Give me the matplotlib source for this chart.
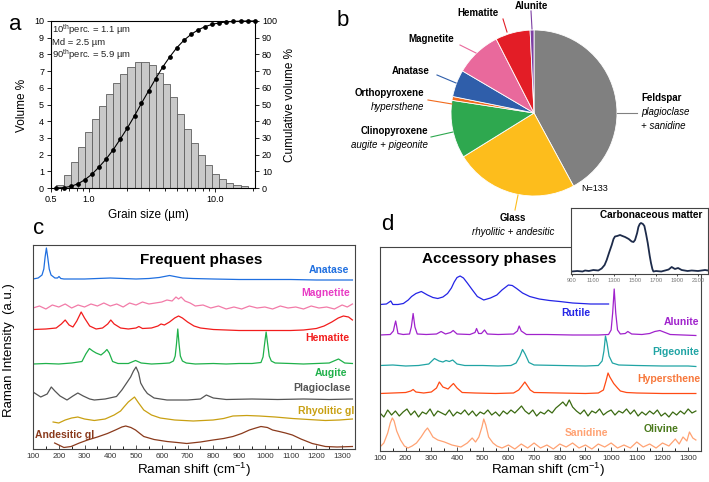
import numpy as np
import matplotlib
matplotlib.use('Agg')
import matplotlib.pyplot as plt
from matplotlib.lines import Line2D

plt.rcParams['font.family'] = ['Liberation Sans', 'DejaVu Sans']
plt.rcParams['mathtext.fontset'] = 'custom'
plt.rcParams['mathtext.rm'] = 'Liberation Sans'
plt.rcParams['mathtext.it'] = 'Liberation Sans:italic'
plt.rcParams['mathtext.bf'] = 'Liberation Sans:bold'

# ---------------- data: panel a (grain size) ----------------
grain_edges_um = [0.55, 0.63, 0.72, 0.82, 0.93, 1.06, 1.20, 1.37, 1.56, 1.77,
                  2.02, 2.30, 2.61, 2.98, 3.39, 3.85, 4.39, 4.99, 5.68, 6.47,
                  7.36, 8.37, 9.53, 10.8, 12.3, 14.0, 16.0, 18.2, 20.7]
volume_pct = [0.2, 0.8, 1.56, 2.46, 3.36, 4.16, 4.9, 5.6, 6.26, 6.8,
              7.26, 7.52, 7.56, 7.36, 6.9, 6.2, 5.46, 4.46, 3.52, 2.7,
              1.96, 1.36, 0.86, 0.56, 0.32, 0.16, 0.1, 0.0]
stats_text = ['10$^{\\rm th}$perc. = 1.1 µm', 'Md = 2.5 µm', '90$^{\\rm th}$perc. = 5.9 µm']

# ---------------- data: panel b (pie) ----------------
pie_names = ['Feldspar', 'Glass', 'Clinopyroxene', 'Orthopyroxene', 'Anatase', 'Magnetite', 'Hematite', 'Alunite']
pie_counts = [56, 32, 15, 1, 7, 12, 9, 1]
pie_colors = ['#808080', '#fdbd1c', '#2ea84f', '#f26b1d', '#2f5eaa', '#e9699c', '#e31d26', '#7d3fa3']

# ---------------- data: panel c (frequent phases) ----------------
anatase_x = [100, 120, 135, 142, 147, 152, 157, 163, 170, 185, 195, 201, 208, 220, 260, 300, 350, 400, 450, 500,
             550, 590, 610, 630, 650, 680, 720, 800, 900, 1000, 1100, 1200, 1300, 1340]
anatase_y = [170, 171, 174, 180, 192, 201, 192, 180, 174, 171, 171, 172.5, 170.5, 170, 170, 170, 170.5, 171, 170.5, 170,
             170.5, 171.5, 172.5, 173.5, 172.5, 171, 170.5, 170, 169.5, 169.5, 169.5, 169, 169, 169]
magnetite_x = [100, 125, 150, 175, 200, 225, 250, 275, 300, 325, 350, 375, 400, 425, 450, 475, 500, 525, 550, 575,
               600, 620, 640, 655, 665, 675, 690, 710, 730, 760, 790, 820, 850, 880, 910, 940, 970, 1000, 1030, 1060,
               1090, 1120, 1150, 1180, 1210, 1240, 1270, 1300, 1320, 1340]
magnetite_y = [141, 143, 140, 144, 142, 145, 141, 144, 142, 145, 143, 146, 143, 145, 142, 146, 144, 147, 145, 146,
               147, 149, 148, 152, 150, 152, 148, 146, 143, 144, 141, 143, 140, 142, 140, 143, 141, 142, 140, 143,
               141, 142, 140, 143, 141, 142, 140, 144, 142, 145]
hematite_x = [100, 150, 190, 210, 225, 240, 255, 270, 287, 300, 320, 345, 370, 390, 402, 415, 440, 470, 500, 511,
              525, 560, 585, 597, 610, 630, 650, 665, 680, 700, 725, 750, 800, 900, 1000, 1100, 1150, 1200, 1230, 1260,
              1285, 1305, 1325, 1340]
hematite_y = [119.5, 120, 121, 125, 129, 124, 122, 128, 137, 131, 123, 120, 121, 125, 129, 125, 121, 120, 121, 122.5,
              120.5, 121, 123, 125, 124, 127, 131, 133, 131, 127, 123, 121, 119.5, 118.5, 118.5, 118.5, 119, 120.5, 123, 127,
              131, 133, 132, 129]
augite_x = [100, 150, 200, 250, 290, 305, 319, 332, 345, 364, 378, 387, 396, 409, 430, 470, 498, 520, 560, 600,
            630, 645, 652, 657, 662, 667, 672, 680, 695, 730, 800, 850, 900, 950, 985, 993, 999, 1005, 1011, 1017,
            1025, 1040, 1100, 1150, 1200, 1250, 1286, 1310, 1340]
augite_y = [85, 85.5, 85, 86, 87.5, 95, 100.5, 98, 96, 94, 97, 99.5, 96, 87.5, 85.5, 85.5, 88.5, 86, 85, 85.5,
            86, 88, 93, 105, 120, 105, 93, 88, 86, 85, 85.5, 85, 85.5, 85.5, 86.5, 92, 105, 117, 105, 93,
            88, 86, 85.5, 85, 85.5, 86, 90, 86, 85.5]
plagioclase_x = [100, 130, 155, 171, 185, 205, 232, 255, 274, 295, 320, 338, 380, 424, 445, 466, 479, 490, 500, 510,
                 518, 531, 544, 570, 620, 700, 750, 773, 800, 850, 950, 1050, 1150, 1250, 1340]
plagioclase_y = [57, 52, 55, 62, 58, 53, 49, 53, 56, 53, 50, 49, 50, 52.5, 59, 67, 72, 78, 82, 76,
                 66, 60, 55.5, 51, 49, 49, 50, 54, 51, 49.5, 50, 49.5, 50, 49.5, 50]
rhyolitic_x = [178, 200, 225, 250, 274, 300, 338, 380, 415, 440, 453, 470, 494, 510, 530, 560, 594, 650, 722, 799,
               840, 876, 930, 979, 1040, 1107, 1170, 1235, 1290, 1340]
rhyolitic_y = [27, 26, 29, 31, 32, 30, 28.5, 30, 34, 38, 42, 47, 52, 46, 39, 34, 31, 29, 28, 29,
               30.5, 33, 33.5, 33, 32, 30.5, 29.5, 28.5, 29, 30]
andesitic_x = [184, 200, 220, 248, 280, 312, 350, 389, 420, 445, 460, 480, 498, 515, 530, 570, 620, 660, 697, 750,
               799, 840, 876, 910, 940, 965, 985, 1010, 1030, 1056, 1080, 1107, 1140, 1184, 1235, 1280, 1340]
andesitic_y = [6, 4, 1.5, 2.5, 6, 9, 12, 15.5, 19, 22, 23, 21.5, 19, 15.5, 12.5, 9.5, 7.5, 6.5, 5.5, 7,
               9, 10.5, 12.5, 15.5, 19, 21, 22.5, 21.5, 19, 17.5, 16, 14, 10, 5.5, 2.5, 2, 2.5]

# ---------------- data: panel d (accessory phases) ----------------
rutile_x = [100, 125, 142, 150, 170, 191, 210, 223, 240, 261, 285, 306, 325, 345, 363, 378, 389, 400, 412, 425,
            440, 460, 479, 504, 530, 555, 575, 600, 615, 632, 655, 683, 720, 760, 800, 850, 920, 990]
rutile_y = [146.5, 147, 150, 146.5, 146.5, 147.5, 151, 154.5, 157.5, 159.5, 156, 153.5, 152.5, 154, 157.5, 163, 169, 173.5, 175, 173,
            168, 161, 154.5, 151, 153, 156, 161, 166, 165.5, 162.5, 158, 154.5, 152, 150.5, 149.5, 148, 147, 147]
alunite_x = [100, 140, 152, 158, 161, 164, 170, 190, 215, 222, 229, 236, 245, 280, 320, 338, 355, 375, 385, 400,
             450, 470, 476, 484, 495, 507, 518, 560, 620, 635, 642, 650, 670, 750, 850, 950, 990, 1000, 1006, 1012,
             1018, 1025, 1036, 1055, 1065, 1080, 1120, 1150, 1170, 1190, 1230, 1280, 1330]
alunite_y = [116, 116.5, 120, 127, 130, 126, 117.5, 116.5, 117, 124, 137.5, 124, 117, 116.5, 117, 119.5, 117, 118.5, 120.5, 117,
             116.5, 118.5, 122.5, 117.5, 117.5, 121, 117, 116.5, 117, 120, 125, 120, 116.5, 116.5, 116, 116, 116.5, 121, 138, 162,
             138, 121, 117, 117.5, 119.5, 117, 116.5, 117.5, 119.5, 120.5, 116.5, 116, 115.5]
pigeonite_x = [100, 150, 200, 250, 290, 312, 330, 345, 357, 370, 383, 400, 430, 500, 560, 610, 630, 645, 655, 665,
               680, 700, 800, 900, 950, 965, 972, 978, 984, 992, 1005, 1030, 1100, 1200, 1300, 1330]
pigeonite_y = [85.5, 86, 85, 85.5, 87, 92.5, 90, 89, 90.5, 89.5, 91, 87, 85.5, 85.5, 85, 85.5, 88, 95, 101.5, 97,
               88.5, 86, 85.5, 85, 85.5, 90, 100, 115, 108, 95, 88, 86, 85.5, 85, 85, 84.5]
hypersthene_x = [100, 150, 200, 220, 229, 240, 270, 300, 320, 331, 345, 365, 376, 386, 400, 420, 470, 550, 620, 640,
                 651, 664, 672, 685, 700, 800, 900, 950, 970, 980, 988, 995, 1010, 1025, 1036, 1060, 1100, 1200, 1300, 1330]
hypersthene_y = [57.5, 58, 58.5, 60, 61.5, 59, 58, 59, 63, 69, 64, 62, 65, 67.5, 63, 58.5, 58, 57.5, 58, 61,
                 64.5, 69, 66, 61, 58.5, 58, 57.5, 58, 61, 70, 78, 74, 67.5, 63, 60, 58.5, 58, 57.5, 57.5, 57.5]
olivine_x = [100, 115, 130, 145, 160, 175, 190, 205, 220, 235, 250, 265, 280, 295, 310, 325, 340, 355, 370, 385,
             400, 415, 430, 445, 460, 475, 490, 505, 520, 535, 550, 565, 580, 595, 610, 625, 640, 651, 665, 680,
             695, 710, 725, 740, 755, 770, 785, 799, 812, 825, 837, 850, 865, 880, 895, 910, 925, 940, 955, 970,
             985, 1000, 1015, 1030, 1045, 1060, 1075, 1090, 1105, 1120, 1135, 1150, 1165, 1180, 1195, 1210, 1225, 1240, 1255, 1270,
             1285, 1300, 1315, 1330]
olivine_y = [38, 34, 41, 36, 40, 35, 39, 42, 36, 40, 34, 39, 37, 42, 35, 40, 38, 36, 41, 35,
             39, 37, 41, 36, 40, 35, 39, 37, 41, 36, 39, 35, 40, 37, 41, 38, 42, 45, 40, 37,
             41, 35, 39, 37, 41, 38, 43, 46, 49, 45, 51, 44, 40, 37, 41, 35, 40, 38, 42, 36,
             39, 41, 36, 40, 38, 42, 37, 41, 35, 39, 36, 40, 37, 41, 35, 38, 34, 39, 36, 40,
             37, 42, 38, 40]
sanidine_x = [100, 115, 130, 140, 148, 155, 165, 180, 195, 209, 225, 242, 260, 275, 285, 295, 306, 325, 351, 380,
              415, 440, 459, 472, 485, 497, 504, 512, 523, 540, 555, 575, 600, 625, 650, 675, 700, 725, 750, 775,
              800, 825, 850, 875, 900, 925, 950, 975, 1000, 1025, 1050, 1075, 1100, 1125, 1150, 1175, 1200, 1225, 1250, 1265,
              1280, 1295, 1305, 1318, 1330]
sanidine_y = [4, 8, 18, 28, 33, 30, 20, 11, 5, 3, 5, 8, 14, 20, 23, 19, 14, 11, 9, 6,
              4, 8, 13, 9, 14, 24, 32, 26, 14, 8, 5, 3, 6, 2, 7, 3, 8, 3, 6, 2,
              7, 4, 8, 3, 6, 2, 7, 4, 8, 3, 6, 3, 9, 4, 7, 3, 8, 5, 12, 7,
              14, 10, 19, 13, 11]
carbon_x = [895, 950, 1000, 1024, 1060, 1103, 1150, 1182, 1210, 1230, 1255, 1278, 1295, 1309, 1330, 1357, 1380, 1405, 1440, 1468,
            1485, 1500, 1520, 1532, 1545, 1557, 1575, 1589, 1605, 1621, 1640, 1652, 1665, 1675, 1700, 1750, 1786, 1820, 1849, 1880,
            1910, 1944, 2000, 2040, 2100, 2167, 2195]
carbon_y = [2.5, 3, 2.5, 3.5, 3, 4, 3.5, 5.5, 9, 14, 22, 29, 35, 37.5, 38, 39, 38, 37, 35, 32.5,
            32, 34, 41, 47, 50, 51, 50, 48, 40, 31, 18, 11, 5, 2.5, 3, 2.5, 3.5, 4.5, 7, 5,
            6, 4, 3, 3.5, 3, 4, 3.5]

# ---------------- figure helpers ----------------
W, H = 709, 482
fig = plt.figure(figsize=(W / 100, H / 100), dpi=100)


def box(l, t, r, b):
    return [l / W, 1 - b / H, (r - l) / W, (b - t) / H]


def ftext(x, y, s, **kw):
    kw.setdefault('va', 'center')
    return fig.text(x / W, 1 - y / H, s, **kw)


def fline(x0, y0, x1, y1, color, lw=0.8):
    fig.add_artist(Line2D([x0 / W, x1 / W], [1 - y0 / H, 1 - y1 / H], color=color, lw=lw,
                          transform=fig.transFigure))


# ---------------- panel a ----------------
axa = fig.add_axes(box(51, 21, 255, 188))
axa.set_xscale('log')
edges = np.array(grain_edges_um)
axa.bar(edges[:-1], volume_pct, width=np.diff(edges), align='edge', color='#c9c9c9',
        edgecolor='#5e5e5e', linewidth=0.6)
axa.set_xlim(0.5, 20.8)
axa.set_ylim(0, 10)
axa.set_yticks(range(0, 11))
axa.set_xticks([0.5, 1, 10])
axa.set_xticklabels(['0.5', '1.0', '10.0'])
axa.set_xticks([0.6, 0.7, 0.8, 0.9, 2, 3, 4, 5, 6, 7, 8, 9, 20], minor=True)
axa.xaxis.set_minor_formatter(plt.NullFormatter())
axa.tick_params(labelsize=6.5, length=3, width=0.6, pad=2)
axa.tick_params(axis='x', which='minor', length=2, width=0.6)
for s in axa.spines.values():
    s.set_linewidth(0.7)
cum = np.concatenate([[0], np.cumsum(volume_pct)])
cum = cum / cum[-1] * 100
axa2 = axa.twinx()
axa2.plot(edges, cum, '-o', color='black', lw=0.8, ms=2.4, clip_on=False)
axa2.set_ylim(0, 100)
axa2.set_yticks(range(0, 101, 10))
axa2.tick_params(labelsize=6.5, length=3, width=0.6, pad=2)
for i, s in enumerate(stats_text):
    ftext(52, 30 + 12.2 * i, s, ha='left', fontsize=6.8, color='#222222')
ftext(22, 105, 'Volume %', rotation=90, ha='center', fontsize=8.5)
ftext(290, 105, 'Cumulative volume %', rotation=90, ha='center', fontsize=8.5)
ftext(148, 215, 'Grain size (µm)', ha='center', fontsize=8.5)

# ---------------- panel b ----------------
axb = fig.add_axes(box(451, 30, 617, 196))
axb.pie(pie_counts, colors=pie_colors, startangle=90, counterclock=False,
        wedgeprops=dict(edgecolor='white', linewidth=0.6))
axb.set_xlim(-1, 1)
axb.set_ylim(-1, 1)
axb.set_aspect('equal')

bold7 = dict(fontsize=7, fontweight='bold')
ital7 = dict(fontsize=7, style='italic')
ftext(531, 6, 'Alunite', ha='center', **bold7)
fline(532, 29, 531, 11, pie_colors[7])
ftext(478, 13, 'Hematite', ha='center', **bold7)
fline(507, 32, 503, 19, pie_colors[6])
ftext(431, 39, 'Magnetite', ha='center', **bold7)
fline(476, 53, 460, 45, pie_colors[5])
ftext(411, 71, 'Anatase', ha='center', **bold7)
fline(456, 83, 437, 75, pie_colors[4])
ftext(424, 93, 'Orthopyroxene', ha='right', **bold7)
ftext(424, 107, 'hypersthene', ha='right', **ital7)
fline(452, 104, 428, 100, pie_colors[3])
ftext(428, 131, 'Clinopyroxene', ha='right', **bold7)
ftext(428, 145, 'augite + pigeonite', ha='right', **ital7)
fline(453, 132, 431, 137, pie_colors[2])
ftext(513, 218, 'Glass', ha='center', **bold7)
ftext(513, 232, 'rhyolitic + andesitic', ha='center', **ital7)
fline(518, 195, 515, 210, pie_colors[1])
ftext(641, 98, 'Feldspar', ha='left', **bold7)
ftext(641, 112, 'plagioclase', ha='left', **ital7)
ftext(641, 126, '+ sanidine', ha='left', **ital7)
fline(617, 113, 637, 113, pie_colors[0])
ftext(581, 189, 'N=133', ha='left', fontsize=6.5)

# ---------------- panel c ----------------
axc = fig.add_axes(box(33, 245, 355, 449))
c_series = [
    (anatase_x, anatase_y, '#1f6fe0'),
    (magnetite_x, magnetite_y, '#f27ba8'),
    (hematite_x, hematite_y, '#f21c1c'),
    (augite_x, augite_y, '#1fb14a'),
    (plagioclase_x, plagioclase_y, '#555555'),
    (rhyolitic_x, rhyolitic_y, '#c9a012'),
    (andesitic_x, andesitic_y, '#8a3a1c'),
]
for x, y, c in c_series:
    axc.plot(x, y, color=c, lw=0.9)
axc.set_xlim(100, 1340)
axc.set_ylim(0, 204)

# ---------------- panel d ----------------
axd = fig.add_axes(box(380, 247, 701, 451))
d_series = [
    (rutile_x, rutile_y, '#2424e6'),
    (alunite_x, alunite_y, '#a022cc'),
    (pigeonite_x, pigeonite_y, '#20a4a4'),
    (hypersthene_x, hypersthene_y, '#ff4a14'),
    (olivine_x, olivine_y, '#3b6a12'),
    (sanidine_x, sanidine_y, '#ffa273'),
]
for x, y, c in d_series:
    axd.plot(x, y, color=c, lw=0.9)
axd.set_xlim(100, 1330)
axd.set_ylim(0, 204)

for ax in (axc, axd):
    ax.set_yticks([])
    ax.set_xticks(range(100, 1301, 100))
    ax.set_xticks(range(150, 1351, 100), minor=True)
    ax.tick_params(axis='x', direction='in', labelsize=5.8, length=3, width=0.6, pad=3, colors='#333333')
    ax.tick_params(axis='x', which='minor', direction='in', length=2, width=0.6)
    for s in ax.spines.values():
        s.set_linewidth(0.8)
        s.set_color('#444444')

# inset
axi = fig.add_axes(box(571, 208, 708, 274))
axi.set_facecolor('white')
axi.plot(carbon_x, carbon_y, color='#1d2b4a', lw=1.3)
axi.set_xlim(890, 2195)
axi.set_ylim(0, 66)
axi.set_yticks([])
axi.set_xticks(range(900, 2101, 200))
axi.tick_params(axis='x', labelsize=4.2, labelcolor='#777777', length=1.5, width=0.5, pad=1.5)
for s in axi.spines.values():
    s.set_linewidth(0.8)
    s.set_color('#444444')

# ---------------- texts for c & d ----------------
b75 = dict(fontsize=7.5, fontweight='bold')
ftext(201, 260, 'Frequent phases', ha='center', fontsize=11, fontweight='bold')
ftext(489, 259, 'Accessory phases', ha='center', fontsize=11, fontweight='bold')
ftext(349, 270, 'Anatase', ha='right', color='#1f6fe0', **b75)
ftext(350, 293, 'Magnetite', ha='right', color='#e83ac4', **b75)
ftext(349, 338, 'Hematite', ha='right', color='#f21c1c', **b75)
ftext(347, 373, 'Augite', ha='right', color='#1fb14a', **b75)
ftext(351, 388, 'Plagioclase', ha='right', color='#555555', **b75)
ftext(354, 411, 'Rhyolitic gl', ha='right', color='#c9a012', **b75)
ftext(35, 435, 'Andesitic gl', ha='left', color='#8a3a1c', **b75)

ftext(576, 313, 'Rutile', ha='center', color='#2424e6', **b75)
ftext(699, 322, 'Alunite', ha='right', color='#a022cc', **b75)
ftext(699, 352, 'Pigeonite', ha='right', color='#20a4a4', **b75)
ftext(700, 379, 'Hypersthene', ha='right', color='#f7773a', **b75)
ftext(661, 429, 'Olivine', ha='center', color='#4a7a1c', **b75)
ftext(586, 433, 'Sanidine', ha='center', color='#ffa273', **b75)
ftext(702, 215, 'Carbonaceous matter', ha='right', fontsize=7.2, fontweight='bold')

ftext(194, 470, 'Raman shift (cm$^{-1}$)', ha='center', fontsize=9.6)
ftext(548, 470, 'Raman shift (cm$^{-1}$)', ha='center', fontsize=9.6)
ftext(9, 350, 'Raman Intensity  (a.u.)', ha='center', rotation=90, fontsize=9.5)

# panel letters
ftext(15, 24, 'a', ha='center', fontsize=16)
ftext(343, 21, 'b', ha='center', fontsize=16)
ftext(39, 229, 'c', ha='center', fontsize=16)
ftext(387, 225, 'd', ha='center', fontsize=16)

fig.savefig('out.png', dpi=100)
